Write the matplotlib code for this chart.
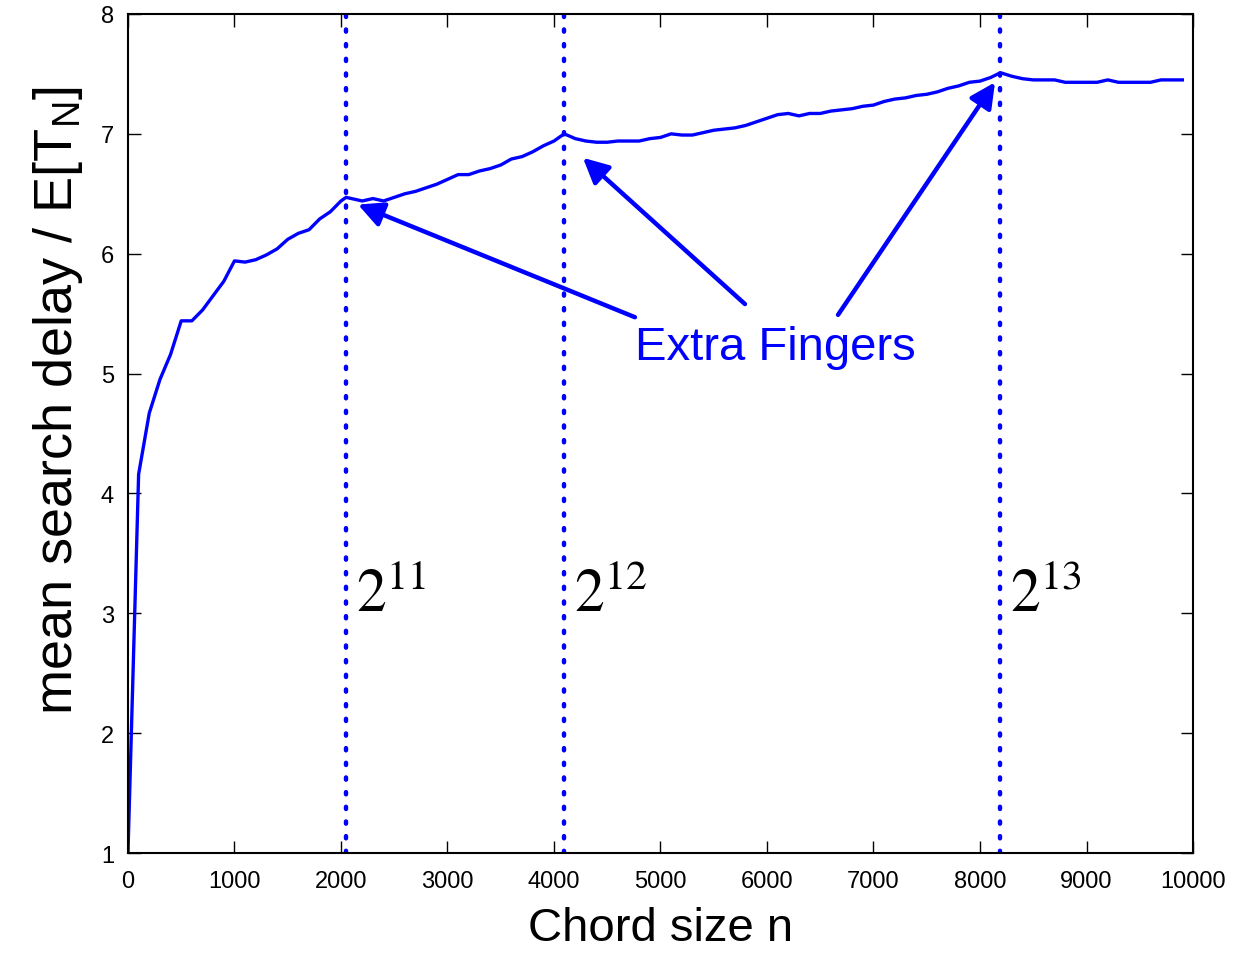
import numpy as np
import matplotlib
matplotlib.use("Agg")
import matplotlib.pyplot as plt

plt.rcParams["font.family"] = ["Liberation Sans", "DejaVu Sans"]
plt.rcParams["mathtext.fontset"] = "custom"
plt.rcParams["mathtext.rm"] = "Liberation Sans"
plt.rcParams["mathtext.it"] = "Liberation Sans"

# chord size and mean search delay
chord_size = [0, 100, 200, 300, 400, 500, 600, 700, 800, 900,
              1000, 1100, 1200, 1300, 1400, 1500, 1600, 1700, 1800, 1900,
              2000, 2048, 2200, 2300, 2400, 2500, 2600, 2700, 2800, 2900,
              3000, 3100, 3200, 3300, 3400, 3500, 3600, 3700, 3800, 3900,
              4000, 4096, 4200, 4300, 4400, 4500, 4600, 4700, 4800, 4900,
              5000, 5100, 5200, 5300, 5400, 5500, 5600, 5700, 5800, 5900,
              6000, 6100, 6200, 6300, 6400, 6500, 6600, 6700, 6800, 6900,
              7000, 7100, 7200, 7300, 7400, 7500, 7600, 7700, 7800, 7900,
              8000, 8100, 8192, 8300, 8400, 8500, 8600, 8700, 8800, 8900,
              9000, 9100, 9200, 9300, 9400, 9500, 9600, 9700, 9800, 9900]
delay = [1.00, 4.16, 4.67, 4.95, 5.16, 5.44, 5.44, 5.53, 5.65, 5.77,
         5.94, 5.93, 5.95, 5.99, 6.04, 6.12, 6.17, 6.20, 6.29, 6.35,
         6.44, 6.47, 6.44, 6.46, 6.44, 6.47, 6.50, 6.52, 6.55, 6.58,
         6.62, 6.66, 6.66, 6.69, 6.71, 6.74, 6.79, 6.81, 6.85, 6.90,
         6.94, 7.00, 6.96, 6.94, 6.93, 6.93, 6.94, 6.94, 6.94, 6.96,
         6.97, 7.00, 6.99, 6.99, 7.01, 7.03, 7.04, 7.05, 7.07, 7.10,
         7.13, 7.16, 7.17, 7.15, 7.17, 7.17, 7.19, 7.20, 7.21, 7.23,
         7.24, 7.27, 7.29, 7.30, 7.32, 7.33, 7.35, 7.38, 7.40, 7.43,
         7.44, 7.47, 7.51, 7.48, 7.46, 7.45, 7.45, 7.45, 7.43, 7.43,
         7.43, 7.43, 7.45, 7.43, 7.43, 7.43, 7.43, 7.45, 7.45, 7.45]

powers = [11, 12, 13]
power_labels = [r"$2^{11}$", r"$2^{12}$", r"$2^{13}$"]
arrow_tips = [(2160, 6.41), (4272, 6.80), (8141, 7.43)]
arrow_tails = [(4760, 5.47), (5793, 5.58), (6667, 5.49)]

fig = plt.figure(figsize=(12.4, 9.54), dpi=100)
ax = fig.add_axes([0.1032, 0.1048, 0.8589, 0.8795])

ax.plot(chord_size, delay, color="blue", lw=2.4)

# vertical markers at powers of two
for p, lab in zip(powers, power_labels):
    ax.axvline(2 ** p, color="blue", ls=(0, (0.5, 2.8)), lw=3.2,
               dash_capstyle="round")
    ax.text(2 ** p + 90, 3.03, lab, fontsize=43, color="black",
            math_fontfamily="stix", va="baseline", ha="left")

ax.text(4760, 5.22, "Extra Fingers", fontsize=34, color="blue",
        ha="left", va="center")
for tip, tail in zip(arrow_tips, arrow_tails):
    ax.annotate("", xy=tip, xytext=tail,
                arrowprops=dict(arrowstyle="-|>", color="blue", lw=3.2,
                                mutation_scale=38, shrinkA=0, shrinkB=0))

ax.set_xlim(0, 10000)
ax.set_ylim(1, 8)
ax.set_xticks(np.arange(0, 10001, 1000))
ax.set_yticks(np.arange(1, 9, 1))
ax.tick_params(direction="in", length=9, width=1, labelsize=17,
               top=True, right=True)
ax.tick_params(axis="x", pad=12)
ax.tick_params(axis="y", pad=10)
for s in ax.spines.values():
    s.set_linewidth(1.5)

ax.set_xlabel("Chord size n", fontsize=34, labelpad=10)
ax.set_ylabel(r"mean search delay / E[T$_{\mathrm{N}}$]", fontsize=39)
ax.yaxis.set_label_coords(-0.04, 0.54)

fig.savefig("out.png", dpi=100, facecolor="white")
